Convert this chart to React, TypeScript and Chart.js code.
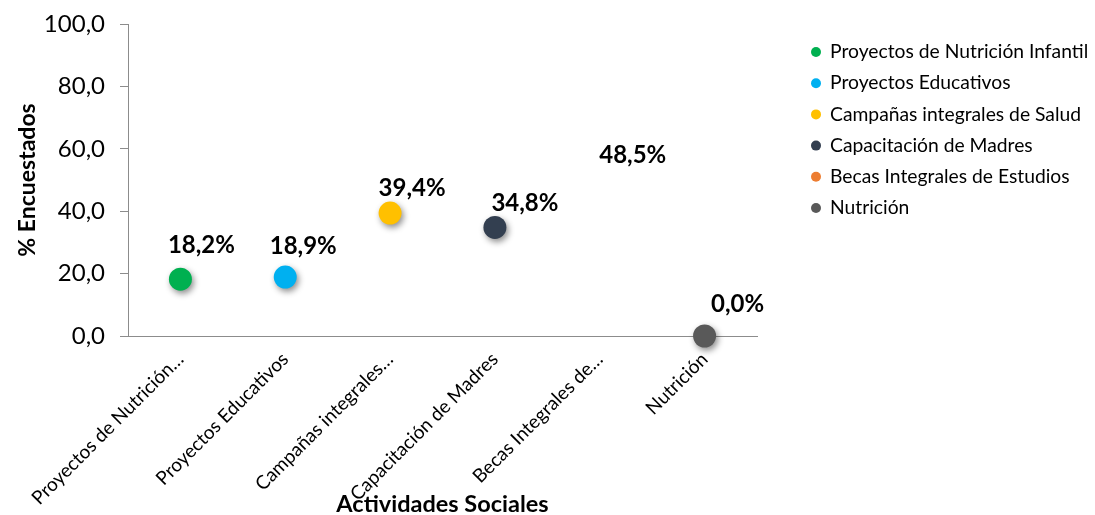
import React, { useEffect, useRef } from "react";
import { Chart, registerables } from "chart.js";

Chart.register(...registerables);

const categories = [
  "Proyectos de Nutrición Infantil",
  "Proyectos Educativos",
  "Campañas integrales de Salud",
  "Capacitación de Madres",
  "Becas Integrales de Estudios",
  "Nutrición",
];
const tickLabels = [
  "Proyectos de Nutrición…",
  "Proyectos Educativos",
  "Campañas integrales…",
  "Capacitación de Madres",
  "Becas Integrales de…",
  "Nutrición",
];
const values = [18.2, 18.9, 39.4, 34.8, 48.5, 0.0];
const colors = ["#00B050", "#00B0F0", "#FFC000", "#333F50", "#ED7D31", "#595959"];
const markerVisible = [true, true, true, true, false, true];
const yTicks = [0, 20, 40, 60, 80, 100];
// label placement relative to point (style)
const labelDx = [21, 18, 22, 30, 33, 33];
const labelDy = [-34, -31, -25, -24, -29, -32];

const FONT = "Lato, 'Noto Sans', sans-serif";
const fmt = (v: number) => v.toFixed(1).replace(".", ",");

export default function App() {
  const ref = useRef<HTMLCanvasElement | null>(null);
  useEffect(() => {
    if (!ref.current) return;
    const shadowPlugin = {
      id: "shadow",
      beforeDatasetDraw(chart: any) {
        const ctx = chart.ctx;
        ctx.save();
        ctx.shadowColor = "rgba(0,0,0,0.45)";
        ctx.shadowBlur = 6;
        ctx.shadowOffsetX = 2;
        ctx.shadowOffsetY = 3;
      },
      afterDatasetDraw(chart: any) {
        chart.ctx.restore();
      },
    };
    const labelPlugin = {
      id: "labels",
      afterDatasetsDraw(chart: any) {
        const ctx = chart.ctx;
        ctx.save();
        ctx.font = `bold 24px ${FONT}`;
        ctx.fillStyle = "#000";
        ctx.textAlign = "center";
        ctx.textBaseline = "middle";
        chart.data.datasets.forEach((ds: any, i: number) => {
          const meta = chart.getDatasetMeta(i);
          const pt = meta.data[i];
          if (!pt) return;
          ctx.fillText(fmt(values[i]) + "%", pt.x + labelDx[i], pt.y + labelDy[i]);
        });
        ctx.restore();
      },
    };
    const legendPlugin = {
      id: "customLegend",
      afterDraw(chart: any) {
        const ctx = chart.ctx;
        ctx.save();
        ctx.font = `19.3px ${FONT}`;
        ctx.textBaseline = "middle";
        ctx.textAlign = "left";
        categories.forEach((c, i) => {
          const y = 52 + i * 31.2;
          ctx.beginPath();
          ctx.fillStyle = colors[i];
          ctx.arc(816, y, 5, 0, Math.PI * 2);
          ctx.fill();
          ctx.fillStyle = "#000";
          ctx.fillText(c, 830, y);
        });
        ctx.restore();
      },
    };
    const chart = new Chart(ref.current, {
      type: "line",
      data: {
        labels: categories,
        datasets: categories.map((c, i) => ({
          label: c,
          data: categories.map((_, j) => (j === i ? values[i] : null)),
          showLine: false,
          backgroundColor: colors[i],
          borderColor: colors[i],
          pointRadius: markerVisible[i] ? 11.5 : 0,
          pointBorderWidth: 0,
          pointHoverRadius: markerVisible[i] ? 11.5 : 0,
          clip: false as any,
        })),
      },
      options: {
        animation: false,
        responsive: false,
        maintainAspectRatio: false,
        layout: { padding: { top: 24, right: 338, left: 0, bottom: 0 } },
        plugins: {
          legend: { display: false },
          tooltip: { enabled: false },
        },
        scales: {
          x: {
            type: "category",
            offset: true,
            grid: { display: false },
            border: { display: true, color: "#8C8C8C", width: 1 },
            ticks: {
              autoSkip: false,
              minRotation: 45,
              maxRotation: 45,
              padding: 4,
              color: "#000",
              font: { family: FONT, size: 19 },
              callback: (_v: any, i: number) => tickLabels[i],
            },
            title: {
              display: true,
              text: "Actividades Sociales",
              color: "#000",
              font: { family: FONT, size: 23.5, weight: "bold" },
              padding: { top: 0, bottom: -4 },
            },
            afterFit: (s: any) => {
              s.height = 179;
            },
          },
          y: {
            min: 0,
            max: 100,
            afterBuildTicks: (s: any) => {
              s.ticks = yTicks.map((v) => ({ value: v }));
            },
            grid: {
              drawOnChartArea: false,
              drawTicks: true,
              tickLength: 8,
              color: "#8C8C8C",
            },
            border: { display: true, color: "#8C8C8C", width: 1 },
            ticks: {
              padding: 15,
              color: "#000",
              font: { family: FONT, size: 24 },
              callback: (v: any) => fmt(Number(v)),
            },
            title: {
              display: true,
              text: "% Encuestados",
              color: "#000",
              font: { family: FONT, size: 23, weight: "bold" },
              padding: { top: 14, bottom: 0 },
            },
            afterFit: (s: any) => {
              s.width = 128;
              s.paddingTop = 0;
              s.paddingBottom = 0;
            },
          },
        },
      },
      plugins: [shadowPlugin, labelPlugin, legendPlugin],
    });
    return () => chart.destroy();
  }, []);
  return (
    <div style={{ position: "fixed", left: 0, top: 0, width: 1095, height: 515, background: "#fff" }}>
      <canvas ref={ref} width={1095} height={515} style={{ width: 1095, height: 515 }} />
    </div>
  );
}
